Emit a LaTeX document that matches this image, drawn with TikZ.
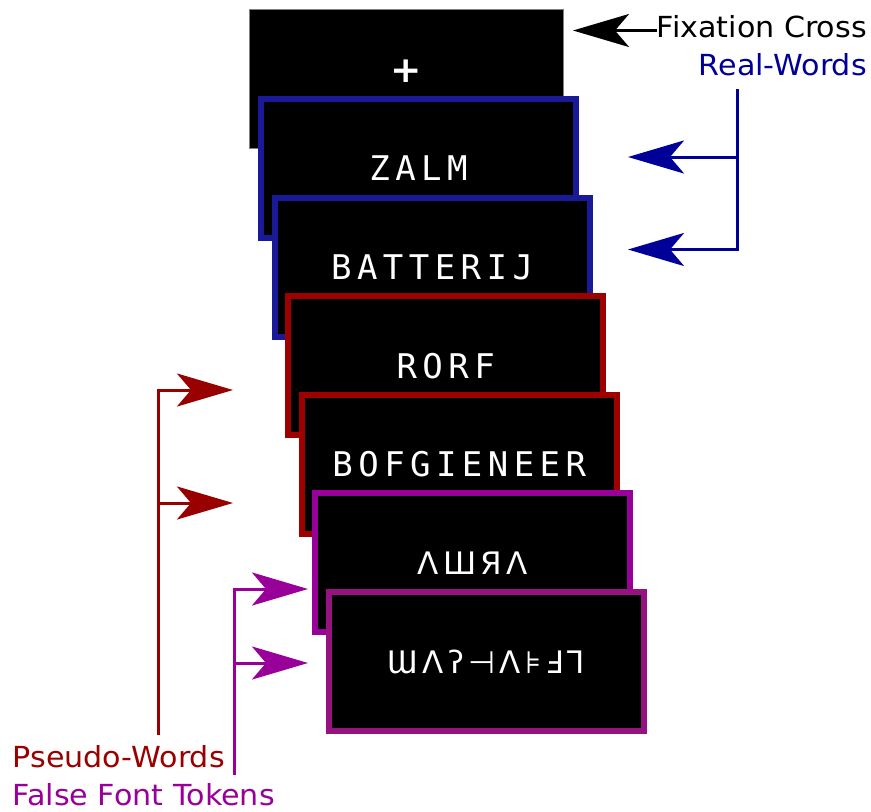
\documentclass[tikz,border=0pt]{standalone}
\usepackage{fontspec}
\setmainfont{DejaVu Sans}[FakeStretch=1.04]
\newfontfamily\cardfont[LetterSpace=16]{DejaVu Sans Mono}
\newfontfamily\fakefont[LetterSpace=14]{DejaVu Sans}
\usetikzlibrary{positioning,calc,arrows.meta}
\definecolor{rwblue}{RGB}{0,0,153}
\definecolor{rwframe}{RGB}{26,26,153}
\definecolor{pwred}{RGB}{153,0,0}
\definecolor{pwframe}{RGB}{158,0,0}
\definecolor{ffpurple}{RGB}{153,0,153}
\definecolor{ffframe}{RGB}{150,18,128}

\begin{document}
\begin{tikzpicture}[x=1pt,y=-1pt,
  every node/.style={inner sep=0pt},
  screen/.style={fill=black,line width=6pt,minimum width=315pt,minimum height=139pt,
    text=white,font=\cardfont\fontsize{34}{34}\selectfont},
  realw/.style={screen,draw=rwframe},
  pseudow/.style={screen,draw=pwframe},
  falsew/.style={screen,draw=#1,font=\fakefont\fontsize{31}{31}\selectfont},
  lbl/.style={font=\fontsize{29}{29}\selectfont},
  tip/.style={-{Stealth[length=56pt,width=33pt,inset=14pt]},line width=3pt}]
\useasboundingbox (0,0) rectangle (871,812);
% stimulus screens, back to front
\node[fill=black,draw=gray,line width=0.6pt,minimum width=314pt,minimum height=139pt] (fixscreen) at (406,78.5) {};
\node[text=white,font=\bfseries\fontsize{36}{36}\selectfont] (cross) at (406,71) {+};
\node[realw] (zalm) at (418.5,168.5) {ZALM};
\node[realw] (batterij) at (432.1,267.1) {BATTERIJ};
\node[pseudow] (rorf) at (445.7,365.7) {RORF};
\node[pseudow] (bofgieneer) at (459.3,464.3) {BOFGIENEER};
\node[falsew=ffpurple] (fake1) at (472.9,562.9) {ɅШЯɅ};
\node[falsew=ffframe] (fake2) at (486.5,661.5) {ƜΛʔ⊣Λ⊧Ⅎ⅂};
% labels
\node[lbl,anchor=base east] (fixlbl) at (867,37) {Fixation Cross};
\node[lbl,text=rwblue,below=38pt of fixlbl.base east,anchor=base east] (rwlbl) {Real-Words};
\node[lbl,text=pwred,anchor=base west] (pwlbl) at (12.5,767) {Pseudo-Words};
\node[lbl,text=ffpurple,below=38pt of pwlbl.base west,anchor=base west] (fflbl) {False Font Tokens};
% arrows
\coordinate (fixtip) at (573,30.5);
\draw[tip,line width=2.5pt] (fixlbl.west |- fixtip) -- (fixtip);
\coordinate (rwtop) at (737,89);
\coordinate (rwtip1) at (628,157);
\coordinate (rwtip2) at (628,249.5);
\foreach \t in {rwtip1,rwtip2}
  \draw[tip,rwblue] (rwtop) |- (\t);
\coordinate (pwfoot) at (158,735);
\coordinate (pwtip1) at (233,390);
\coordinate (pwtip2) at (233,503);
\foreach \t in {pwtip1,pwtip2}
  \draw[tip,pwred] (pwfoot) |- (\t);
\coordinate (fffoot) at (234,775);
\coordinate (fftip1) at (308,589);
\coordinate (fftip2) at (308,663);
\foreach \t in {fftip1,fftip2}
  \draw[tip,ffpurple] (fffoot) |- (\t);
\end{tikzpicture}
\end{document}
